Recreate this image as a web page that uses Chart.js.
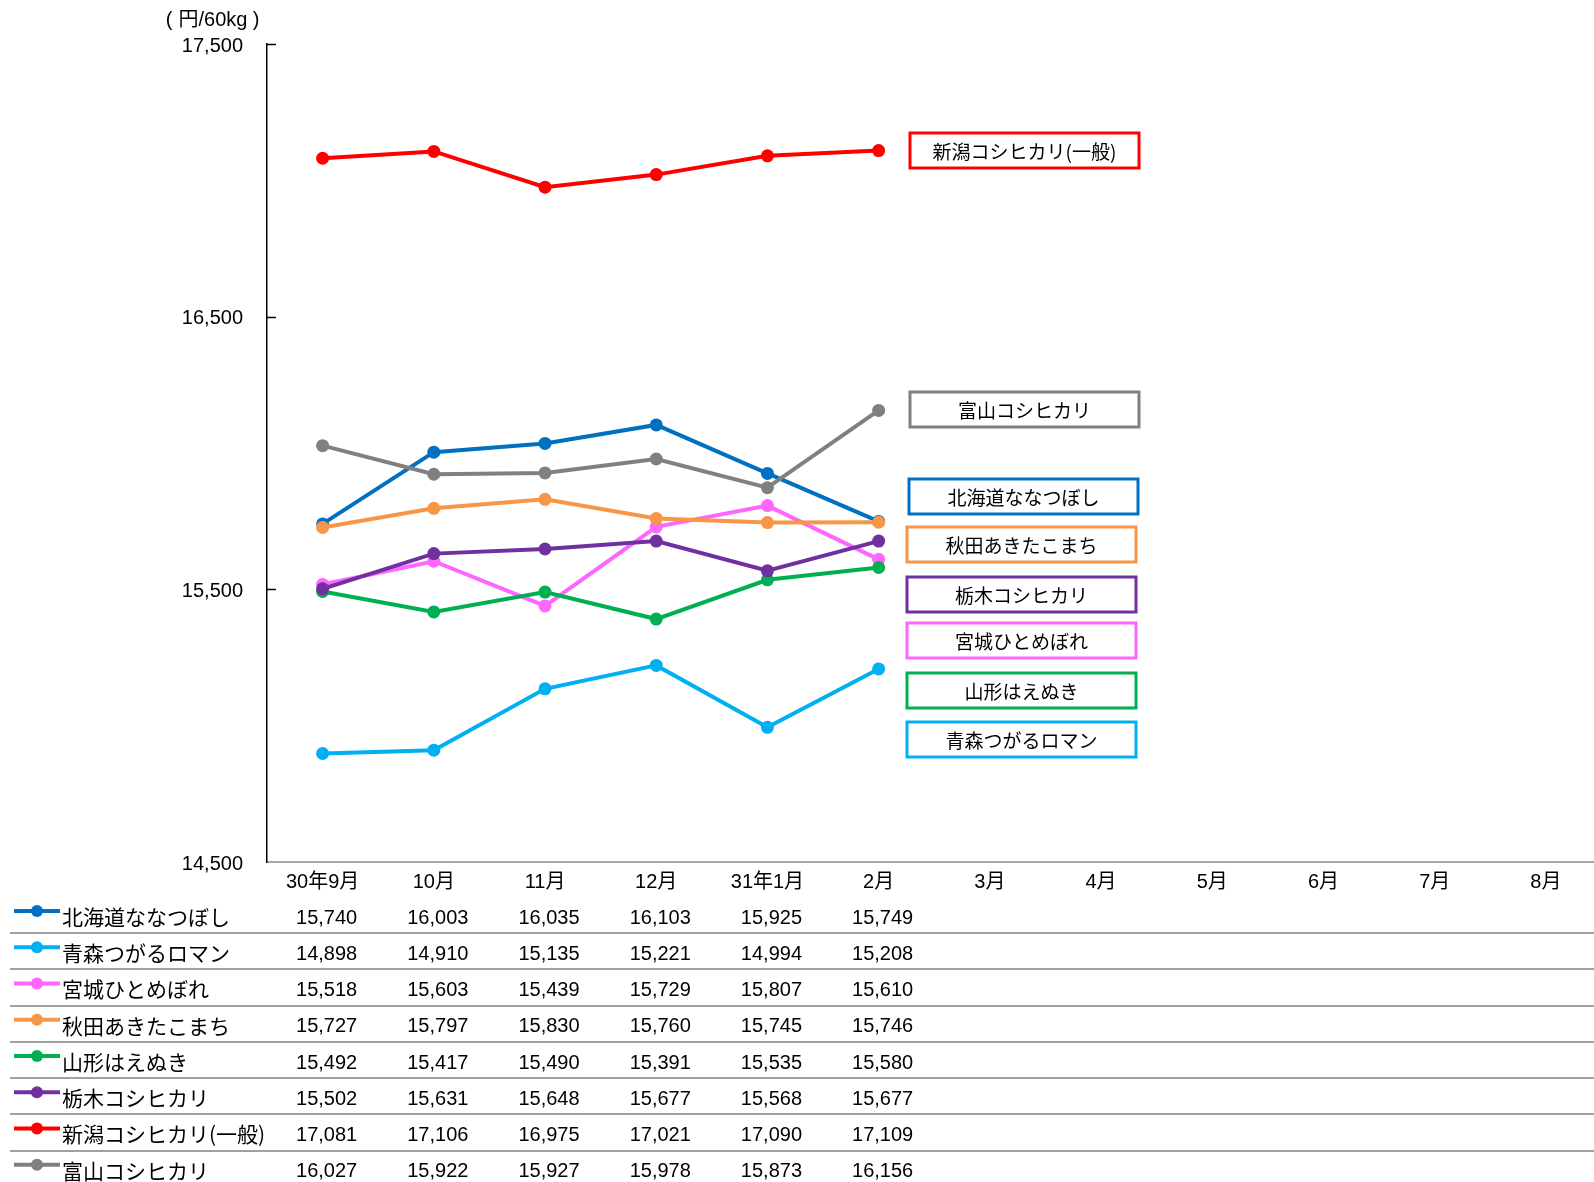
<!DOCTYPE html>
<html lang="ja">
<head>
<meta charset="utf-8">
<title>銘柄別 相対取引価格の推移</title>
<script src="https://cdn.jsdelivr.net/npm/chart.js@4.4.1/dist/chart.umd.min.js"></script>
<style>
  html, body { margin: 0; padding: 0; background: #fff; overflow: hidden; }
  #wrap { width: 1594px; height: 1182px; overflow: hidden; position: relative; }
  canvas { display: block; }
</style>
</head>
<body>
<div id="wrap"><canvas id="chart" width="1608" height="1182"></canvas></div>
<script>
// 月（横軸）
const months = ['30年9月', '10月', '11月', '12月', '31年1月', '2月', '3月', '4月', '5月', '6月', '7月', '8月'];

// 銘柄名と線の色
const brandNames = ['北海道ななつぼし', '青森つがるロマン', '宮城ひとめぼれ', '秋田あきたこまち',
                    '山形はえぬき', '栃木コシヒカリ', '新潟コシヒカリ(一般)', '富山コシヒカリ'];
const brandColors = ['#0070C0', '#00B0F0', '#FF66FF', '#F79646', '#00B050', '#7030A0', '#FF0000', '#808080'];

// 価格（円/60kg）
const hokkaido = [15740, 16003, 16035, 16103, 15925, 15749];
const aomori   = [14898, 14910, 15135, 15221, 14994, 15208];
const miyagi   = [15518, 15603, 15439, 15729, 15807, 15610];
const akita    = [15727, 15797, 15830, 15760, 15745, 15746];
const yamagata = [15492, 15417, 15490, 15391, 15535, 15580];
const tochigi  = [15502, 15631, 15648, 15677, 15568, 15677];
const niigata  = [17081, 17106, 16975, 17021, 17090, 17109];
const toyama   = [16027, 15922, 15927, 15978, 15873, 16156];

// 縦軸
const yMin = 14500;
const yMax = 17500;
const yStep = 1000;
const unitLabel = '円/60kg';

const brandValues = [hokkaido, aomori, miyagi, akita, yamagata, tochigi, niigata, toyama];

const NUM_FONT = '"Liberation Sans", "Noto Sans CJK JP", sans-serif';
const JP_FONT = '"Noto Sans CJK JP", "Liberation Sans", sans-serif';

const fmt = v => v.toLocaleString('en-US');

const datasets = brandNames.map((name, i) => ({
  label: name,
  data: brandValues[i],
  borderColor: brandColors[i],
  backgroundColor: brandColors[i],
  pointBackgroundColor: brandColors[i],
  pointBorderWidth: 0,
  pointRadius: 6.5,
  borderWidth: 4,
  tension: 0,
  fill: false,
  // 後の系列ほど手前に描く
  order: brandNames.length - 1 - i
}));

// 右側の銘柄名ボックス（系列順: 左端x, 上端y）
const boxLayout = [
  [909, 479], [907, 722], [907, 623], [907, 527],
  [907, 673], [907, 577], [910, 133], [910, 392]
];

const overlay = {
  id: 'overlay',
  afterDraw(chart) {
    const ctx = chart.ctx;
    const xs = chart.scales.x;
    const ys = chart.scales.y;
    const area = chart.chartArea;

    ctx.save();

    // 縦軸の内向き目盛
    ctx.strokeStyle = '#000';
    ctx.lineWidth = 1.5;
    for (let v = yMin + yStep; v <= yMax; v += yStep) {
      const y = Math.round(ys.getPixelForValue(v)) + 0.5;
      ctx.beginPath();
      ctx.moveTo(area.left, y);
      ctx.lineTo(area.left + 9, y);
      ctx.stroke();
    }

    // 単位（括弧は少し離して描く）
    ctx.fillStyle = '#000';
    ctx.font = '20px ' + NUM_FONT;
    ctx.textBaseline = 'middle';
    ctx.textAlign = 'center';
    ctx.fillText('(', 169, 20);
    ctx.fillText(unitLabel, 213, 20);
    ctx.fillText(')', 256, 20);

    // 銘柄名ボックス
    brandNames.forEach((name, i) => {
      const [bx, by] = boxLayout[i];
      const bw = 229, bh = 35;
      ctx.fillStyle = '#fff';
      ctx.fillRect(bx, by, bw, bh);
      ctx.strokeStyle = brandColors[i];
      ctx.lineWidth = 3;
      ctx.strokeRect(bx, by, bw, bh);
      ctx.fillStyle = '#000';
      ctx.font = '19px ' + JP_FONT;
      ctx.textAlign = 'center';
      ctx.textBaseline = 'middle';
      ctx.fillText(name, bx + bw / 2, by + bh / 2 + 1);
    });

    // データ表
    const rowTop = 917;
    const rowPitch = 36.25;
    ctx.strokeStyle = '#A0A0A0';
    ctx.lineWidth = 2;
    for (let r = 0; r < brandNames.length - 1; r++) {
      const y = Math.round(rowTop + 16 + r * rowPitch);
      ctx.beginPath();
      ctx.moveTo(10, y);
      ctx.lineTo(chart.width, y);
      ctx.stroke();
    }

    brandNames.forEach((name, i) => {
      const cy = rowTop + i * rowPitch;
      const color = brandColors[i];
      // 凡例マーカー
      ctx.strokeStyle = color;
      ctx.lineWidth = 4;
      ctx.beginPath();
      ctx.moveTo(14, cy - 6);
      ctx.lineTo(60, cy - 6);
      ctx.stroke();
      ctx.fillStyle = color;
      ctx.beginPath();
      ctx.arc(37, cy - 6, 6, 0, Math.PI * 2);
      ctx.fill();
      // 銘柄名
      ctx.fillStyle = '#000';
      ctx.font = '21px ' + JP_FONT;
      ctx.textAlign = 'left';
      ctx.textBaseline = 'middle';
      ctx.fillText(name, 62, cy);
      // 値
      ctx.font = '20px ' + NUM_FONT;
      ctx.textAlign = 'center';
      brandValues[i].forEach((v, j) => {
        if (v == null) return;
        ctx.fillText(fmt(v), xs.getPixelForValue(j) + 4, cy + 1);
      });
    });

    ctx.restore();
  }
};

new Chart(document.getElementById('chart'), {
  type: 'line',
  data: { labels: months, datasets },
  options: {
    responsive: false,
    animation: false,
    devicePixelRatio: 1,
    layout: { padding: { top: 44, right: 0, bottom: 0, left: 0 } },
    plugins: {
      legend: { display: false },
      tooltip: { enabled: false }
    },
    scales: {
      x: {
        offset: true,
        grid: { display: false },
        border: { display: true, color: '#A6A6A6', width: 2 },
        ticks: {
          autoSkip: false,
          maxRotation: 0,
          padding: 0,
          color: '#000',
          font: { size: 20, family: NUM_FONT }
        },
        afterFit: s => { s.height = 320; }
      },
      y: {
        min: yMin,
        max: yMax,
        grid: { display: false },
        border: { display: true, color: '#000', width: 1.5 },
        ticks: {
          stepSize: yStep,
          padding: 16,
          labelOffset: 2,
          color: '#000',
          font: { size: 20, family: NUM_FONT },
          callback: v => fmt(v)
        },
        afterFit: s => { s.width = 267; }
      }
    }
  },
  plugins: [overlay]
});
</script>
</body>
</html>
